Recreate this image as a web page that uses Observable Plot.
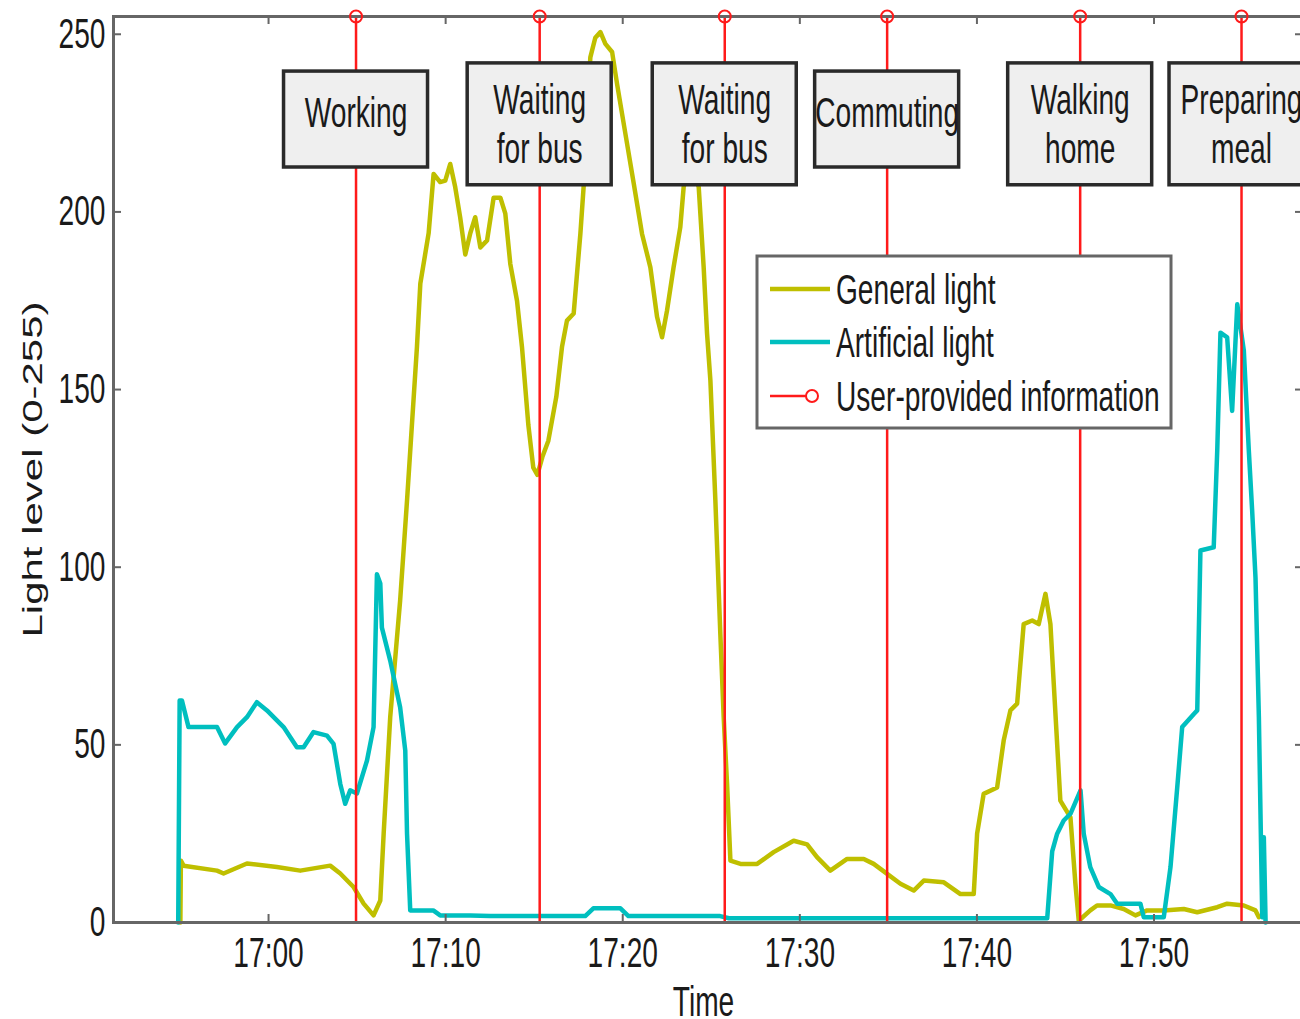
<!DOCTYPE html>
<html>
<head>
<meta charset="utf-8">
<script src="https://cdn.jsdelivr.net/npm/d3@7"></script>
<script src="https://cdn.jsdelivr.net/npm/@observablehq/plot@0.6"></script>
<style>
  html, body { margin: 0; padding: 0; background: #fff; }
  #chart { width: 1300px; height: 1019px; overflow: hidden; }
</style>
</head>
<body>
<div id="chart"></div>
<script>
// ---------- data (time = minutes after 17:00) ----------
const xTickLabels = ["17:00", "17:10", "17:20", "17:30", "17:40", "17:50"];
const yTicks = [0, 50, 100, 150, 200, 250];
const seriesNames = ["General light", "Artificial light"];
const legendLabels = ["General light", "Artificial light", "User-provided information"];

const generalTime = [-4.98, -4.95, -4.80, -2.91, -2.54, -1.22, 0.47, 1.79, 3.48, 4.05, 4.80, 5.37, 5.93, 6.31, 6.50, 6.87, 7.43, 7.82, 8.38, 8.57, 9.04, 9.32, 9.69, 9.98, 10.26, 10.54, 10.82, 11.11, 11.39, 11.67, 11.96, 12.34, 12.71, 13.09, 13.37, 13.65, 14.03, 14.31, 14.67, 14.95, 15.18, 15.46, 15.80, 16.25, 16.57, 16.85, 17.23, 17.61, 17.79, 18.17, 18.45, 18.74, 19.02, 19.40, 19.68, 20.15, 20.62, 21.09, 21.56, 21.94, 22.22, 22.50, 22.87, 23.25, 23.44, 23.82, 24.29, 24.57, 24.76, 24.95, 25.23, 25.51, 25.70, 25.89, 26.08, 26.65, 27.59, 28.52, 29.65, 30.41, 30.97, 31.72, 32.67, 33.61, 34.17, 34.93, 35.68, 36.43, 37.00, 38.13, 39.07, 39.82, 40.01, 40.38, 41.14, 41.51, 41.89, 42.27, 42.64, 43.12, 43.49, 43.87, 44.15, 44.34, 44.71, 45.28, 45.56, 45.75, 46.40, 46.78, 47.54, 48.29, 48.95, 49.61, 50.55, 51.68, 52.44, 53.57, 54.13, 55.07, 55.73, 55.92];
const generalLevel = [0, 17.4, 16, 14.6, 13.8, 16.6, 15.6, 14.6, 16, 13.8, 10, 5.3, 2, 6.2, 25, 57.8, 90.6, 118.8, 162, 179.8, 194, 210.7, 208.4, 208.8, 213.5, 207, 198.5, 188, 194, 198.5, 190, 192, 204, 204, 199.5, 185.4, 175, 162, 140, 128, 126, 131, 135.6, 148, 162, 169.4, 171.4, 194, 207, 243.5, 249, 250.6, 247.3, 245, 236, 222, 208, 193.8, 184.4, 170.4, 164.7, 172.2, 184.4, 195.7, 207, 215, 207, 184.4, 165.8, 152.5, 118.8, 81.3, 57.8, 39, 17.4, 16.5, 16.5, 19.8, 23, 22, 18.4, 14.6, 17.9, 17.9, 16.5, 13.7, 10.9, 9, 11.8, 11.3, 8, 8, 25, 36.2, 38, 51.2, 59.7, 61.6, 84, 85, 84, 92.5, 84, 67, 34.3, 29.6, 10.9, 0.5, 3.4, 4.8, 4.8, 3.8, 2, 3.4, 3.4, 3.8, 2.9, 4.3, 5.3, 4.8, 3.4, 1.5];

const artificialTime = [-5.10, -5.02, -4.89, -4.52, -2.91, -2.45, -1.78, -1.22, -0.66, -0.09, 0.85, 1.60, 1.98, 2.54, 3.30, 3.67, 4.05, 4.33, 4.61, 4.99, 5.56, 5.93, 6.12, 6.31, 6.40, 6.87, 7.43, 7.72, 7.82, 8.00, 9.30, 9.69, 11.39, 12.52, 17.88, 18.34, 19.87, 20.32, 25.50, 26.00, 43.97, 44.25, 44.53, 44.90, 45.28, 45.85, 46.03, 46.40, 46.88, 47.54, 47.92, 49.23, 49.42, 50.55, 50.93, 51.31, 51.59, 52.25, 52.44, 52.62, 53.37, 53.57, 53.75, 54.13, 54.41, 54.70, 55.07, 55.35, 55.54, 55.73, 55.92, 56.11, 56.20, 56.30];
const artificialLevel = [0, 62.5, 62.5, 55, 55, 50.4, 55, 57.8, 62, 59.7, 55, 49.3, 49.3, 53.6, 52.6, 50.3, 39, 33.4, 37.2, 36.3, 45.6, 55, 98, 95.4, 83, 73.7, 60.6, 48.4, 25, 3.4, 3.4, 2, 2, 1.8, 1.8, 4, 4, 1.8, 1.8, 1.2, 1.2, 20, 25, 28.7, 30.6, 37.2, 25, 15.6, 10, 8, 5.3, 5.3, 1.5, 1.5, 15.6, 38, 55, 58.7, 59.7, 104.7, 105.6, 133, 166, 164.7, 144, 174, 161, 133, 116, 97, 57.8, 1.5, 24, 0];

const eventTime = [4.94, 15.31, 25.76, 34.93, 45.83, 54.94];
const eventLabels = ["Working", "Waiting\nfor bus", "Waiting\nfor bus", "Commuting", "Walking\nhome", "Preparing\nmeal"];

// ---------- build tables ----------
const base = Date.UTC(2013, 0, 1, 17, 0, 0);
const toDate = m => new Date(base + m * 60000);
const parseTick = s => { const [h, mm] = s.split(":").map(Number); return new Date(Date.UTC(2013, 0, 1, h, mm)); };

const general = generalTime.map((t, i) => ({time: toDate(t), level: generalLevel[i], series: seriesNames[0]}));
const artificial = artificialTime.map((t, i) => ({time: toDate(t), level: artificialLevel[i], series: seriesNames[1]}));
const events = eventTime.map((t, i) => ({time: toDate(t), label: eventLabels[i]}));
const xTicks = xTickLabels.map(parseTick);

const colGeneral = "#bfbf00", colArtificial = "#00bfbf", colRed = "#ff1a1a", axisCol = "#666";
const W = 1300, H = 1019, mL = 113, mR = -3, mT = 16, mB = 97;
const plotH = H - mT - mB, plotW = W - mL - mR;
const twoLine = d => d.label.includes("\n");

const chart = Plot.plot({
  width: W, height: H,
  marginLeft: mL, marginRight: mR, marginTop: mT, marginBottom: mB,
  style: {fontFamily: "'Liberation Sans', Arial, sans-serif", fontSize: "42px", color: "#1a1a1a", background: "#fff"},
  x: {type: "utc", domain: [toDate(-8.755), toDate(58.44)]},
  y: {domain: [0, 255]},
  marks: [
    Plot.line(general, {x: "time", y: "level", stroke: colGeneral, strokeWidth: 4.5, strokeLinejoin: "round"}),
    Plot.line(artificial, {x: "time", y: "level", stroke: colArtificial, strokeWidth: 4.5, strokeLinejoin: "round"}),
    Plot.ruleX(events, {x: "time", y1: 0, y2: 255, stroke: colRed, strokeWidth: 2.5}),
    Plot.rect(events, {x1: "time", x2: "time", y1: d => twoLine(d) ? 207.5 : 212.5, y2: d => twoLine(d) ? 241.8 : 239.5,
      insetLeft: -72, insetRight: -72, fill: "#efefef", stroke: "#2a2a2a", strokeWidth: 3.5}),
    Plot.text(events, {x: "time", y: d => twoLine(d) ? 225 : 228.4, text: "label", fontSize: 42, lineHeight: 1.17, fill: "#1a1a1a"}),
    Plot.tickX(xTicks, {x: d => d, insetTop: plotH - 8, stroke: axisCol, strokeWidth: 2}),
    Plot.tickX(xTicks, {x: d => d, insetBottom: plotH - 8, stroke: axisCol, strokeWidth: 2}),
    Plot.tickY(yTicks, {y: d => d, insetRight: plotW - 8, stroke: axisCol, strokeWidth: 2}),
    Plot.tickY(yTicks, {y: d => d, insetLeft: plotW - 8, stroke: axisCol, strokeWidth: 2}),
    Plot.frame({stroke: axisCol, strokeWidth: 3}),
    Plot.dot(events, {x: "time", y: 255, r: 6, stroke: colRed, strokeWidth: 2, fill: "none"}),
    Plot.axisX({ticks: xTicks, tickFormat: d3.utcFormat("%H:%M"), tickSize: 0, tickPadding: 15, label: null, fontSize: 42}),
    Plot.axisY({ticks: yTicks, tickSize: 0, tickPadding: 8, label: null, fontSize: 42}),
    Plot.text(["Light level (0-255)"], {text: d => d, frameAnchor: "left", rotate: -90, dx: -80, fontSize: 42,
      textAnchor: "middle", lineAnchor: "middle"}),
    Plot.text(["Time"], {text: d => d, frameAnchor: "bottom", dy: 80, dx: -5, fontSize: 42, lineAnchor: "middle"})
  ]
});

// ---------- legend (inside plot, opaque) ----------
const svg = d3.select(chart);
const lg = svg.append("g").attr("class", "legend").attr("text-anchor", "start");
lg.append("rect").attr("x", 757).attr("y", 256).attr("width", 414).attr("height", 172)
  .attr("fill", "#fff").attr("stroke", axisCol).attr("stroke-width", 3);
const rowY = [289, 342, 396];
const rowCol = [colGeneral, colArtificial, colRed];
legendLabels.forEach((lab, i) => {
  if (i < 2) {
    lg.append("line").attr("x1", 770).attr("x2", 830).attr("y1", rowY[i]).attr("y2", rowY[i])
      .attr("stroke", rowCol[i]).attr("stroke-width", 4.5);
  } else {
    lg.append("line").attr("x1", 770).attr("x2", 806).attr("y1", rowY[i]).attr("y2", rowY[i])
      .attr("stroke", colRed).attr("stroke-width", 2.5);
    lg.append("circle").attr("cx", 812).attr("cy", rowY[i]).attr("r", 6)
      .attr("fill", "none").attr("stroke", colRed).attr("stroke-width", 2);
  }
  lg.append("text").attr("x", 836).attr("y", rowY[i]).attr("dy", "0.36em")
    .attr("text-anchor", "start").attr("font-size", 42).attr("fill", "#1a1a1a").text(lab);
});

document.getElementById("chart").append(chart);

// ---------- horizontal condensing of all text (reference glyphs are narrow) ----------
const K = 0.67;
chart.querySelectorAll("text").forEach(el => {
  const parent = el.parentNode;
  const r = el.getBoundingClientRect();
  const anchor = getComputedStyle(el).textAnchor;
  const rotated = (el.getAttribute("transform") || "").includes("rotate");
  const sx = rotated ? (r.left + r.right) / 2
    : anchor === "end" ? r.right : anchor === "middle" ? (r.left + r.right) / 2 : r.left;
  const p = new DOMPoint(sx, r.top).matrixTransform(parent.getScreenCTM().inverse());
  const t = el.getAttribute("transform") || "";
  el.setAttribute("transform", `translate(${p.x},0) scale(${K},1) translate(${-p.x},0) ${t}`);
});
</script>
</body>
</html>
